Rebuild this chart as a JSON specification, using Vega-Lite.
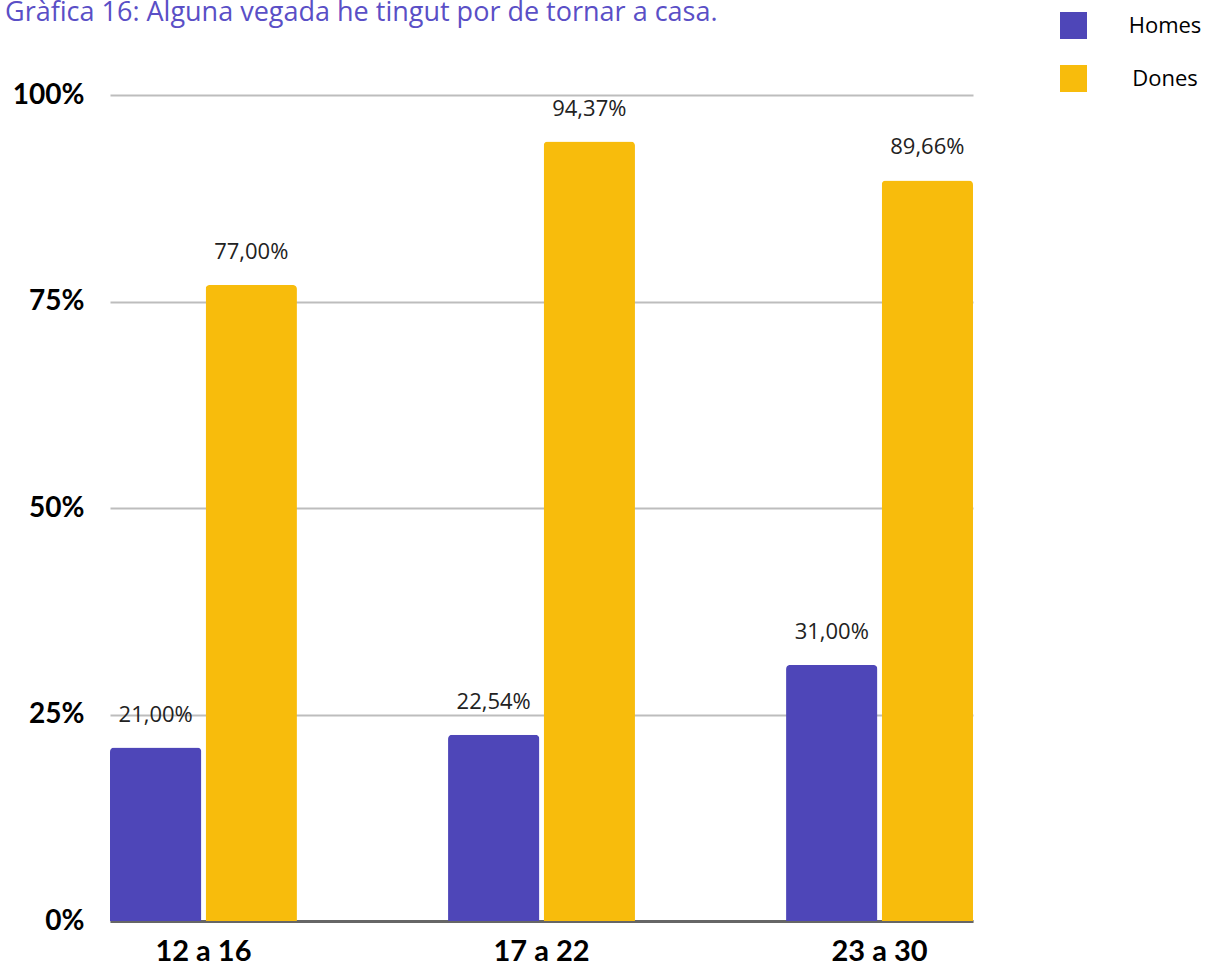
{
  "$schema": "https://vega.github.io/schema/vega-lite/v6.json",
  "autosize": {"type": "none"},
  "padding": {"left": 110, "top": 95, "right": 233, "bottom": 45},
  "width": 863,
  "height": 826,
  "background": "white",
  "title": {
    "text": "Gràfica 16: Alguna vegada he tingut por de tornar a casa. ",
    "anchor": "start",
    "frame": "group",
    "dx": -105,
    "offset": 0,
    "dy": 36,
    "baseline": "alphabetic",
    "font": "Open Sans",
    "fontSize": 27,
    "fontWeight": "normal",
    "color": "#5A4FC6"
  },
  "config": {
    "locale": {
      "number": {"decimal": ",", "thousands": ".", "grouping": [3], "currency": ["", " €"]}
    },
    "view": {"stroke": null}
  },
  "data": {
    "values": [
      {"edat": "12 a 16", "sexe": "Homes", "valor": 0.21},
      {"edat": "12 a 16", "sexe": "Dones", "valor": 0.77},
      {"edat": "17 a 22", "sexe": "Homes", "valor": 0.2254},
      {"edat": "17 a 22", "sexe": "Dones", "valor": 0.9437},
      {"edat": "23 a 30", "sexe": "Homes", "valor": 0.31},
      {"edat": "23 a 30", "sexe": "Dones", "valor": 0.8966}
    ]
  },
  "encoding": {
    "x": {
      "field": "edat",
      "type": "nominal",
      "sort": null,
      "scale": {"paddingInner": 0.447, "paddingOuter": 0},
      "axis": {
        "title": null,
        "labelAngle": 0,
        "labelFont": "Lato",
        "labelFontWeight": "bold",
        "labelFontSize": 29,
        "labelColor": "#000000",
        "labelPadding": 16,
        "ticks": false,
        "domainColor": "#666666",
        "domainWidth": 3
      }
    },
    "xOffset": {
      "field": "sexe",
      "type": "nominal",
      "sort": ["Homes", "Dones"],
      "scale": {"paddingInner": 0.045, "paddingOuter": 0}
    },
    "y": {
      "field": "valor",
      "type": "quantitative",
      "scale": {"domain": [0, 1]},
      "axis": {
        "title": null,
        "values": [0, 0.25, 0.5, 0.75, 1],
        "format": ".0%",
        "labelFont": "Lato",
        "labelFontWeight": "bold",
        "labelFontSize": 28,
        "labelColor": "#000000",
        "labelPadding": 26,
        "ticks": false,
        "domain": false,
        "gridColor": "#BDBDBD",
        "gridWidth": 2
      }
    }
  },
  "layer": [
    {
      "mark": {"type": "bar", "cornerRadiusTopLeft": 4, "cornerRadiusTopRight": 4},
      "encoding": {
        "color": {
          "field": "sexe",
          "type": "nominal",
          "sort": ["Homes", "Dones"],
          "scale": {"domain": ["Homes", "Dones"], "range": ["#4E46B8", "#F8BC0C"]},
          "legend": {
            "title": null,
            "orient": "none",
            "legendX": 950,
            "legendY": -83,
            "symbolType": "square",
            "symbolSize": 729,
            "symbolStrokeWidth": 0,
            "labelFont": "Open Sans",
            "labelFontSize": 22,
            "labelColor": "#000000",
            "labelAlign": "center",
            "labelOffset": 78,
            "rowPadding": 26
          }
        }
      }
    },
    {
      "mark": {
        "type": "text",
        "baseline": "alphabetic",
        "dy": -26,
        "font": "Open Sans",
        "fontSize": 22,
        "color": "#222222"
      },
      "encoding": {
        "text": {"field": "valor", "type": "quantitative", "format": ".2%"}
      }
    }
  ]
}
